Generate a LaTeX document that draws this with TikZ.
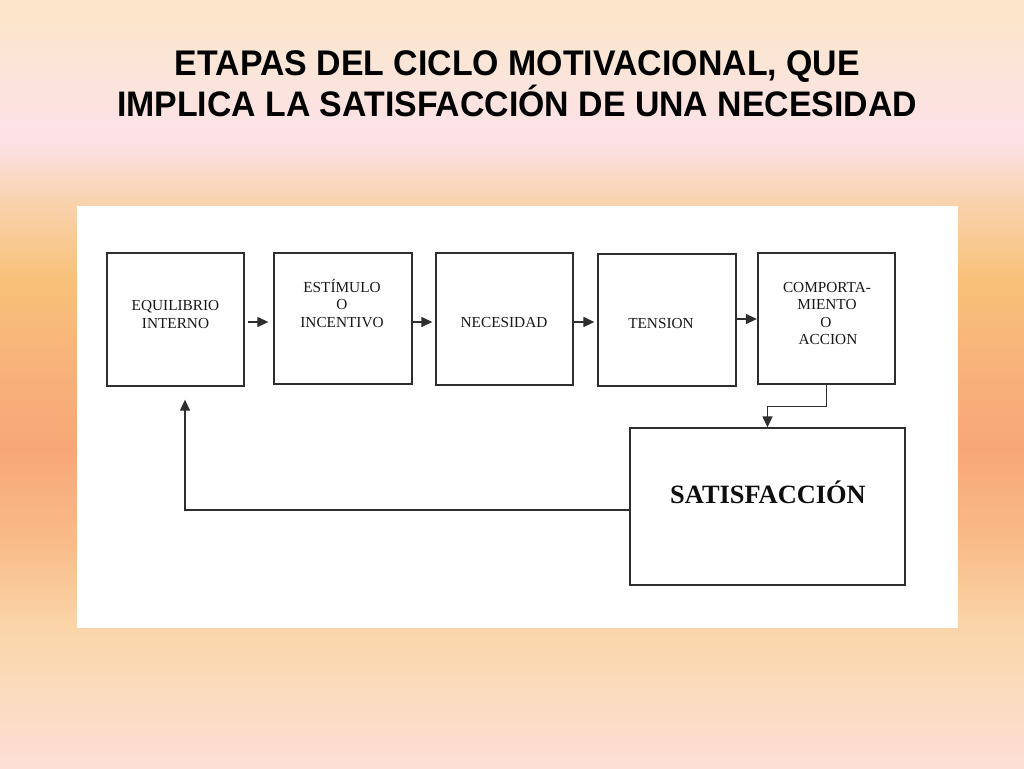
\documentclass[tikz,border=0pt]{standalone}
\usepackage{fontspec}
\setmainfont{Liberation Serif}
\newfontfamily\titlefont{Liberation Sans}
\usetikzlibrary{arrows.meta}
\newcommand\fitline[3]{\resizebox{#1}{#2}{\raisebox{0pt}[\fontcharht\font`I][0pt]{#3}}}
\definecolor{g0}{RGB}{251,230,200}
\definecolor{g1}{RGB}{251,229,214}
\definecolor{g2}{RGB}{252,226,232}
\definecolor{g3}{RGB}{249,211,175}
\definecolor{g4}{RGB}{248,193,120}
\definecolor{g5}{RGB}{248,179,122}
\definecolor{g6}{RGB}{248,167,120}
\definecolor{g7}{RGB}{249,187,136}
\definecolor{g8}{RGB}{250,212,166}
\definecolor{g9}{RGB}{251,220,192}
\definecolor{g10}{RGB}{252,222,214}
\begin{document}
\begin{tikzpicture}[x=1pt,y=-1pt,
  stage/.style={draw=black!82, line width=1.3pt, inner sep=0pt, fill=white},
  txt/.style={font=\fontsize{15.3}{17}\selectfont, text=black!90, inner sep=0pt, anchor=base},
  bigtxt/.style={font=\fontsize{26.4}{30}\selectfont\bfseries, text=black!95, inner sep=0pt, anchor=base},
  ttl/.style={font=\titlefont\bfseries\fontsize{34}{40}\selectfont, text=black, inner sep=0pt, anchor=base},
  flow/.style={draw=black!82, line width=1.3pt, -{Triangle[length=11pt,width=10pt]}}]
\useasboundingbox (0,0) rectangle (1024,768);
% background gradient
\foreach \ya/\ca/\yb/\cb in {0/g0/60/g1, 60/g1/140/g2, 140/g2/200/g3, 200/g3/280/g4, 280/g4/360/g5, 360/g5/450/g6, 450/g6/540/g7, 540/g7/620/g8, 620/g8/700/g9, 700/g9/768/g10}
  \shade[top color=\ca, bottom color=\cb] (0,\ya) rectangle (1024,\yb+0.6);
% white panel
\fill[white] (77,206) rectangle (958,628);
% title
\node[ttl] (title1) at (517.5,75) {\fitline{685pt}{24.5pt}{ETAPAS DEL CICLO MOTIVACIONAL, QUE}};
\node[ttl] (title2) at (517,116) {\fitline{800pt}{24.4pt}{IMPLICA LA SATISFACCIÓN DE UNA NECESIDAD}};
% boxes
\node[stage, minimum width=137pt, minimum height=133pt] (b1) at (175.5,319.5) {};
\node[stage, minimum width=138pt, minimum height=131pt] (b2) at (343,318.5) {};
\node[stage, minimum width=137pt, minimum height=132pt] (b3) at (504.5,319) {};
\node[stage, minimum width=138pt, minimum height=132pt] (b4) at (667,320) {};
\node[stage, minimum width=137pt, minimum height=131pt] (b5) at (826.5,318.5) {};
\node[stage, minimum width=275pt, minimum height=157pt] (sat) at (767.5,506.5) {};
% texts
\node[txt] (t1a) at (175.5,310) {EQUILIBRIO};
\node[txt] (t1b) at (175.5,328) {INTERNO};
\node[txt] (t2a) at (342,292) {ESTÍMULO};
\node[txt] (t2b) at (342,309.5) {O};
\node[txt] (t2c) at (342,327) {INCENTIVO};
\node[txt] (t3a) at (504,327.5) {NECESIDAD};
\node[txt] (t4a) at (661,328) {TENSION};
\node[txt] (t5a) at (827,292) {COMPORTA-};
\node[txt] (t5b) at (827,309.5) {MIENTO};
\node[txt] (t5c) at (826,327) {O};
\node[txt] (t5d) at (828,344) {ACCION};
\node[bigtxt] (t6) at (768,503) {SATISFACCIÓN};
% connectors
\draw[flow, shorten <=3pt, shorten >=5pt] ([yshift=-2.5pt]b1.east) -- ([yshift=-2.5pt]b1.east -| b2.west);
\draw[flow, shorten >=3pt] ([yshift=-3.5pt]b2.east) -- ([yshift=-3.5pt]b2.east -| b3.west);
\draw[flow, shorten >=3pt] ([yshift=-3pt]b3.east) -- ([yshift=-3pt]b3.east -| b4.west);
\draw[flow, shorten >=0.5pt] ([yshift=1pt]b4.east) -- ([yshift=1pt]b4.east -| b5.west);
\draw[flow] (b5.south) -- ++(0,22) -| (sat.north);
\draw[flow] ([yshift=-3.5pt]sat.west) -| ([xshift=9.5pt,yshift=-13pt]b1.south);
\end{tikzpicture}
\end{document}
